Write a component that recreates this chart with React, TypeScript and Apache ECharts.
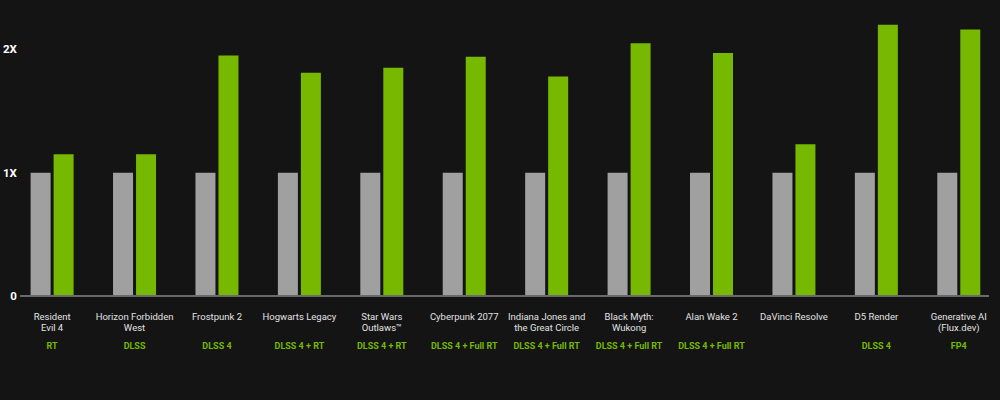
import React, { useEffect, useRef } from "react";
import * as echarts from "echarts";

const names = [
  "Resident\nEvil 4",
  "Horizon Forbidden\nWest",
  "Frostpunk 2",
  "Hogwarts Legacy",
  "Star Wars\nOutlaws™",
  "Cyberpunk 2077",
  "Indiana Jones and\nthe Great Circle",
  "Black Myth:\nWukong",
  "Alan Wake 2",
  "DaVinci Resolve",
  "D5 Render",
  "Generative AI\n(Flux.dev)",
];
const techs = [
  "RT",
  "DLSS",
  "DLSS 4",
  "DLSS 4 + RT",
  "DLSS 4 + RT",
  "DLSS 4 + Full RT",
  "DLSS 4 + Full RT",
  "DLSS 4 + Full RT",
  "DLSS 4 + Full RT",
  "",
  "DLSS 4",
  "FP4",
];
const baseline = [1, 1, 1, 1, 1, 1, 1, 1, 1, 1, 1, 1];
const newGen = [1.15, 1.15, 1.95, 1.81, 1.85, 1.94, 1.78, 2.05, 1.97, 1.23, 2.2, 2.16];
const yTicks: Record<number, string> = { 0: "0", 1: "1X", 2: "2X" };

export default function App() {
  const ref = useRef<HTMLDivElement>(null);
  useEffect(() => {
    if (!ref.current) return;
    const chart = echarts.init(ref.current, undefined, { renderer: "svg" });
    const font = "Roboto, 'Noto Sans', sans-serif";
    chart.setOption({
      animation: false,
      backgroundColor: "#141414",
      grid: { left: 8, right: 0, top: 0, bottom: 104 },
      xAxis: {
        type: "category",
        data: names.map((n, i) => ({ value: n, tech: techs[i] })),
        axisLine: { show: false },
        axisTick: { show: false },
        axisLabel: {
          interval: 0,
          margin: 15,
          formatter: (v: string, i: number) => {
            const parts = v.split("\n");
            const l1 = parts[0];
            const l2 = parts[1] || " ";
            const t = techs[i] || " ";
            return `{n|${l1}}\n{n|${l2}}\n{t|${t}}`;
          },
          rich: {
            n: { color: "#e2e2e2", fontSize: 9.5, lineHeight: 11, fontFamily: font },
            t: { color: "#76b900", fontSize: 9, fontWeight: "bold", lineHeight: 26, fontFamily: font },
          },
        },
      },
      yAxis: {
        type: "value",
        min: 0,
        max: 2.4,
        interval: 1,
        splitLine: { show: false },
        axisLine: { show: false },
        axisTick: { show: false },
        axisLabel: {
          align: "right",
          margin: -6,
          color: "#ffffff",
          fontWeight: "bold",
          fontSize: 11.5,
          fontFamily: font,
          formatter: (v: number) => yTicks[v] ?? "",
        },
      },
      graphic: [
        {
          type: "line",
          shape: { x1: 20, y1: 296, x2: 989, y2: 296 },
          style: { stroke: "#6a6a6a", lineWidth: 2 },
          z: 10,
        },
      ],
      series: [
        {
          type: "bar",
          data: baseline,
          barWidth: 20,
          barGap: "15%",
          itemStyle: { color: "#a0a0a0" },
        },
        {
          type: "bar",
          data: newGen,
          barWidth: 20,
          itemStyle: { color: "#76b900" },
        },
      ],
    });
    return () => chart.dispose();
  }, []);
  return <div ref={ref} style={{ width: 1000, height: 400, position: "fixed", left: 0, top: 0 }} />;
}
